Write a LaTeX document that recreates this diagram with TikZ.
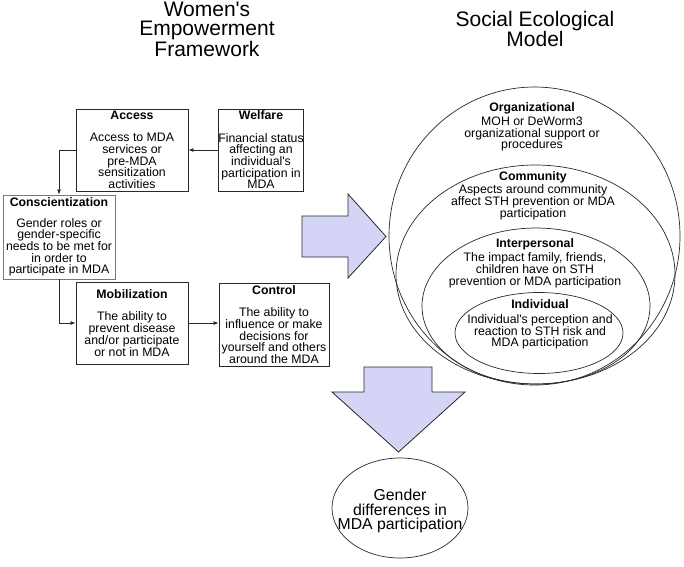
\documentclass[tikz,border=0pt]{standalone}
\usepackage{fontspec}
\setmainfont{Liberation Sans}[Ligatures=TeXOff]
\usetikzlibrary{arrows.meta}
\definecolor{arrowfill}{RGB}{212,212,246}
\definecolor{linecol}{RGB}{40,40,40}
\definecolor{lightline}{RGB}{120,120,120}
\begin{document}
\begin{tikzpicture}[x=1pt,y=-1pt,
  box/.style={draw=linecol,line width=0.9pt,inner sep=0pt,align=center,
    font=\fontsize{12.3}{11.7}\selectfont},
  ring/.style={draw=linecol,line width=0.7pt},
  ringtext/.style={align=center,inner sep=0pt,font=\fontsize{12.3}{11.7}\selectfont},
  heading/.style={align=center,inner sep=0pt,font=\fontsize{21}{19.5}\selectfont},
  conn/.style={draw=linecol,line width=0.8pt,-{Latex[length=5pt,width=4pt]}},
  bigarrow/.style={draw=linecol,line width=0.8pt,fill=arrowfill,line join=miter}]
\useasboundingbox (0,0) rectangle (684,566);

% headings
\node[heading] (wef) at (207,29) {Women's\\Empowerment\\Framework};
\node[heading] (sem) at (535,29) {Social Ecological\\Model};

% boxes
\node[box,minimum width=112,minimum height=82] (access) at (132,150)
  {\textbf{Access}\\[10.5pt]Access to MDA\\services or\\pre-MDA\\sensitization\\activities};
\node[box,minimum width=84,minimum height=82] (welfare) at (261,150)
  {\textbf{Welfare}\\[10.5pt]Financial status\\affecting an\\individual's\\participation in\\MDA};
\node[box,draw=lightline,minimum width=112,minimum height=84] (consc) at (59,237)
  {\textbf{Conscientization}\\[9pt]Gender roles or\\gender-specific\\needs to be met for\\in order to\\participate in MDA};
\node[box,minimum width=112,minimum height=82] (mobil) at (132,323)
  {\textbf{Mobilization}\\[10.5pt]The ability to\\prevent disease\\and/or participate\\or not in MDA};
\node[box,minimum width=110,minimum height=83] (control) at (274,324.5)
  {\textbf{Control}\\[10.5pt]The ability to\\influence or make\\decisions for\\yourself and others\\around the MDA};

% connectors
\draw[conn] (welfare.west) -- (access.east);
\draw[conn] (access.west) -| (consc.north);
\draw[conn] (consc.south) |- (mobil.west);
\draw[conn] (mobil.east) -- (mobil.east -| control.west);

% social ecological model
\coordinate (orgc) at (534.5,236);
\coordinate (commc) at (535.5,274.5);
\coordinate (interc) at (536,306);
\coordinate (indivc) at (539,333);
\draw[ring] (orgc) ellipse [x radius=145.5, y radius=149];
\draw[ring] (commc) ellipse [x radius=139.5, y radius=109.5];
\draw[ring] (interc) ellipse [x radius=114, y radius=78];
\draw[ring] (indivc) ellipse [x radius=84, y radius=40.5];

\node[ringtext] (orgt) at (532,127) {\textbf{Organizational}\\[2pt]MOH or DeWorm3\\organizational support or\\procedures};
\node[ringtext] (commt) at (533,195.5) {\textbf{Community}\\[2pt]Aspects around community\\affect STH prevention or MDA\\participation};
\node[ringtext] (intert) at (535,263) {\textbf{Interpersonal}\\[3pt]The impact family, friends,\\children have on STH\\prevention or MDA participation};
\node[ringtext] (indivt) at (540,324.5) {\textbf{Individual}\\[3pt]Individual's perception and\\reaction to STH risk and\\MDA participation};

% big arrows
\draw[bigarrow] (302,216) -- (348,216) -- (348,194) -- (386,236.5) -- (348,278) -- (348,257) -- (302,257) -- cycle;
\draw[bigarrow] (364,367) -- (432,367) -- (432,392) -- (465,392) -- (398.5,452) -- (332,392) -- (364,392) -- cycle;

% outcome
\coordinate (genderc) at (400,508);
\draw[ring] (genderc) ellipse [x radius=68, y radius=50];
\node[align=center,inner sep=0pt,font=\fontsize{15.8}{14.6}\selectfont] (gender) at (400,511)
  {Gender\\differences in\\MDA participation};
\end{tikzpicture}
\end{document}
